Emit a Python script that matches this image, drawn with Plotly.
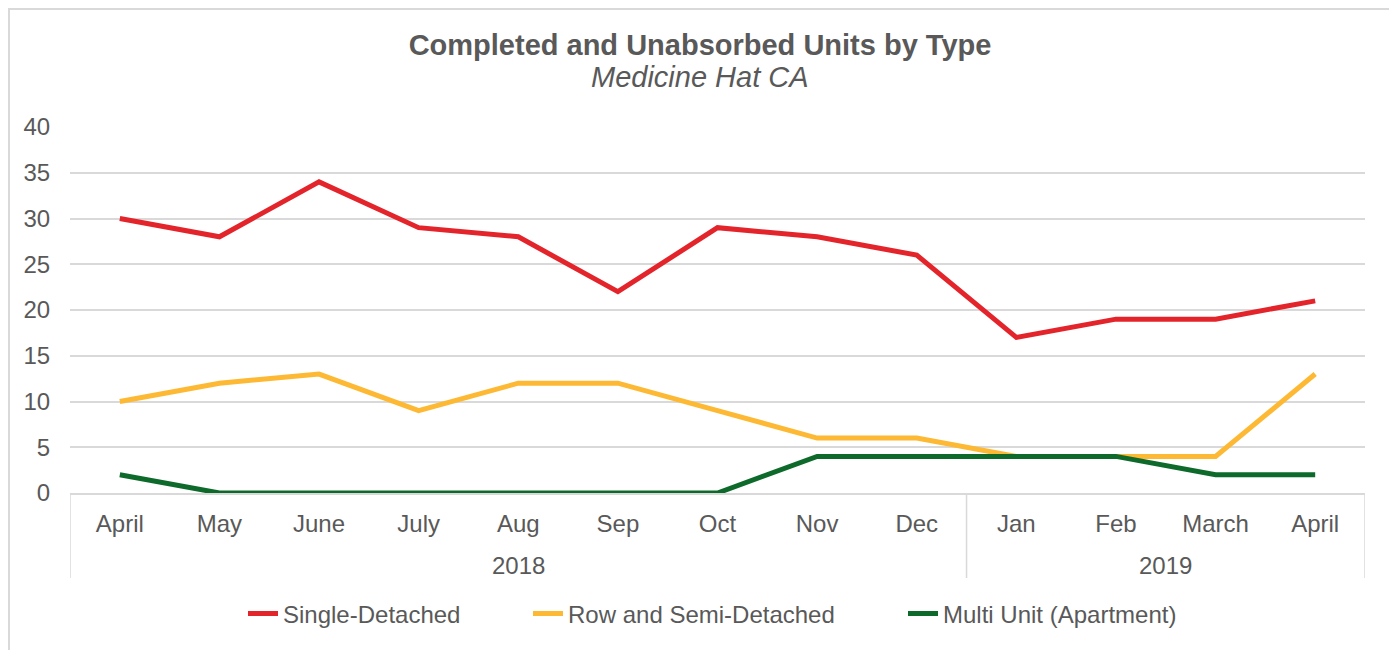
import plotly.graph_objects as go

years = ["2018"] * 9 + ["2019"] * 4
months = ["April", "May", "June", "July", "Aug", "Sep", "Oct", "Nov", "Dec",
          "Jan", "Feb", "March", "April"]
single_detached = [30, 28, 34, 29, 28, 22, 29, 28, 26, 17, 19, 19, 21]
row_semi = [10, 12, 13, 9, 12, 12, 9, 6, 6, 4, 4, 4, 13]
multi_unit = [2, 0, 0, 0, 0, 0, 0, 4, 4, 4, 4, 2, 2]

keys = [f"{m} {y}" for m, y in zip(months, years)]

FONT = "Liberation Sans, Arial, sans-serif"
GREY = "#595959"
LINEGREY = "#D9D9D9"

# page has an 8px body margin: work in screen pixels and convert
OFF = 8
W, H = 1397 - OFF, 650 - OFF


def fx(s):
    return s - OFF


def fy(s):
    return s - OFF


L, R = fx(70), W - fx(1365)
T, B = fy(127), H - fy(493)
pw, ph = W - L - R, H - T - B


def px2paper_x(s):
    return (fx(s) - L) / pw


def px2paper_y(s):
    return (H - B - fy(s)) / ph


fig = go.Figure()
series = [
    ("Single-Detached", single_detached, "#E3242B", 240),
    ("Row and Semi-Detached", row_semi, "#FDB933", 330),
    ("Multi Unit (Apartment)", multi_unit, "#0E6A2B", 235),
]
for name, vals, col, lw in series:
    fig.add_trace(go.Scatter(
        x=keys, y=vals, name=name, mode="lines",
        line=dict(color=col, width=5),
        legendwidth=lw,
    ))

fig.update_layout(
    width=W, height=H,
    margin=dict(l=L, r=R, t=T, b=B, autoexpand=False),
    paper_bgcolor="white", plot_bgcolor="white",
    font=dict(family=FONT, color=GREY, size=24),
    title=dict(
        text="<b>Completed and Unabsorbed Units by Type</b>",
        x=px2paper_x(700), xanchor="center", xref="paper",
        y=1 - fy(45) / H, yanchor="middle", yref="container",
        font=dict(family=FONT, size=29, color=GREY),
    ),
    showlegend=True,
    legend=dict(
        orientation="h", x=px2paper_x(243), xanchor="left",
        y=px2paper_y(614), yanchor="middle",
        font=dict(family=FONT, size=24, color=GREY),
        bgcolor="rgba(0,0,0,0)",
    ),
    xaxis=dict(
        type="category",
        range=[-0.5, len(keys) - 0.5],
        tickvals=keys, ticktext=months,
        showgrid=False,
        showline=True, linecolor=LINEGREY, linewidth=1.5,
        ticks="outside", ticklen=8, tickcolor="rgba(0,0,0,0)",
        tickfont=dict(family=FONT, size=24, color=GREY),
        automargin=False, fixedrange=True,
    ),
    yaxis=dict(
        range=[0, 40], dtick=5, showgrid=True, gridcolor=LINEGREY, gridwidth=1.5,
        zeroline=False, showline=False, ticks="outside", ticklen=14,
        tickcolor="rgba(0,0,0,0)",
        tickfont=dict(family=FONT, size=24, color=GREY),
        automargin=False, fixedrange=True,
    ),
)

# subtitle
fig.add_annotation(
    text="<i>Medicine Hat CA</i>", xref="paper", yref="paper",
    x=px2paper_x(700), y=px2paper_y(77), xanchor="center", yanchor="middle",
    showarrow=False, font=dict(family=FONT, size=29, color=GREY),
)

# year group labels (centered over their category groups)
groups = {}
for i, y in enumerate(years):
    groups.setdefault(y, []).append(i)
for y, idx in groups.items():
    fig.add_annotation(
        text=y, xref="x", yref="paper",
        x=(idx[0] + idx[-1]) / 2, y=px2paper_y(565), xanchor="center", yanchor="middle",
        showarrow=False, font=dict(family=FONT, size=24, color=GREY),
    )

# group dividers
bounds = [-0.5] + [idx[-1] + 0.5 for idx in groups.values()]
for b in bounds:
    fig.add_shape(
        type="line", xref="x", yref="paper",
        x0=b, x1=b, y0=0, y1=px2paper_y(578),
        line=dict(color=LINEGREY, width=1.5),
    )

# outer chart border
fig.add_shape(
    type="rect", xref="paper", yref="paper",
    x0=(1 - L) / pw, x1=px2paper_x(1393),
    y0=px2paper_y(670), y1=(H - B - 1) / ph,
    line=dict(color=LINEGREY, width=2), fillcolor="rgba(0,0,0,0)", layer="below",
)

fig.write_html("out.html")
